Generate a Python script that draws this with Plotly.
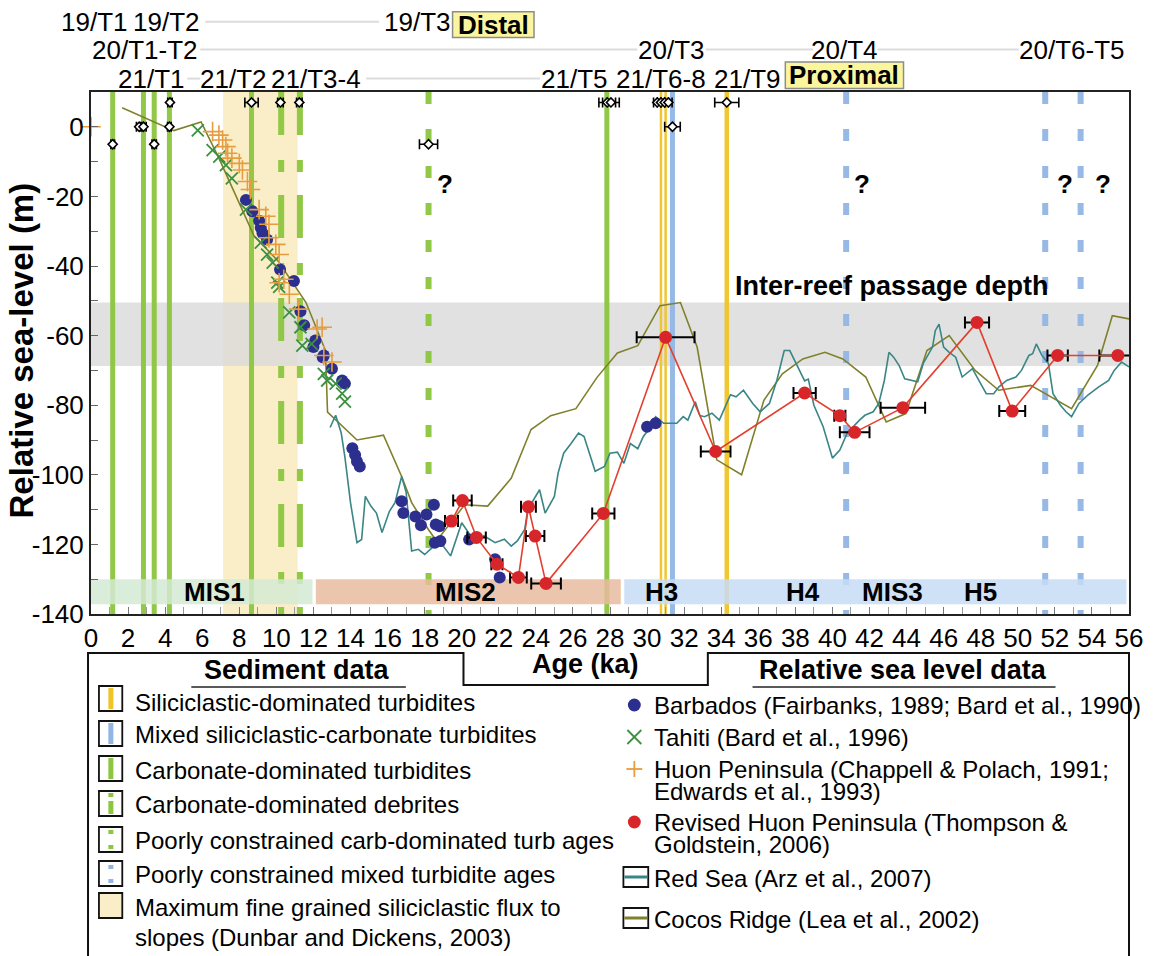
import plotly.graph_objects as go

# ---------------------------------------------------------------- data
# Cocos Ridge sea-level curve (age ka, relative sea level m)
cocos_age = [1.68, 4.47, 5.94, 6.9, 8.8, 10.1, 11.6, 12.65, 12.76, 14.35, 15.78, 16.76, 17.3,
             18.2, 18.64, 20.16, 21.4, 22.67, 23.74, 24.8, 26.16, 27.3, 28.4, 29.5, 30.7, 31.8,
             32.7, 33.76, 35.1, 36.3, 37.3, 38.4, 39.6, 40.56, 41.8, 42.9, 43.96, 45.1, 46.3,
             47.7, 48.97, 50.7, 52.9, 54.3, 55.1, 56.0]
cocos_rsl = [5.5, -1.1, 1.4, -9, -31.4, -38.6, -50.5, -64.3, -82, -90, -88.6, -100.5, -108,
             -115.7, -119, -108.6, -109, -101, -87, -83, -81, -72, -65, -62.9, -51.4, -50.5,
             -63.3, -95.7, -100, -78.6, -71, -66.7, -64.8, -66.7, -71.9, -84.8, -82.4, -64.3, -60,
             -70, -75.7, -74.3, -81, -68.6, -54.3, -55.2]

# Red Sea sea-level curve
redsea_age = [12.9, 13.2, 13.5, 13.7, 14.0, 14.35, 14.6, 14.8, 15.1, 15.4, 15.7, 16.1, 16.4,
              16.76, 17.0, 17.3, 17.66, 18.0, 18.5, 19.0, 19.4, 20.0, 20.35, 20.7, 21.2, 21.8,
              22.3, 22.67, 23.0, 23.4, 23.56, 24.2, 24.5, 25.0, 25.2, 25.5, 25.9, 26.3, 26.6,
              26.9, 27.2, 27.7, 28.0, 28.4, 28.75, 29.1, 29.5, 29.8, 30.2, 30.46, 30.9, 31.6,
              31.95, 32.2, 32.6, 32.85, 33.1, 33.5, 33.9, 34.5, 34.8, 35.2, 35.7, 36.1, 36.6,
              37.0, 37.4, 37.7, 38.2, 38.5, 38.7, 39.0, 39.5, 40.0, 40.4, 40.8, 41.46, 41.75,
              42.2, 42.5, 42.8, 43.05, 43.3, 43.6, 43.9, 44.3, 44.6, 44.9, 45.4, 45.55, 45.75,
              46.0, 46.3, 46.65, 47.0, 47.55, 47.9, 48.3, 48.7, 48.97, 49.4, 49.9, 50.2, 50.6,
              50.8, 51.0, 51.3, 51.65, 51.9, 52.3, 52.6, 52.9, 53.3, 53.8, 54.35, 54.9, 55.2,
              55.6, 56.0]
redsea_rsl = [-86.4, -82.9, -88, -95, -108, -119.5, -118.6, -106.2, -109, -111, -116.6, -110.5,
              -108, -100.5, -105, -121.9, -121.4, -122.9, -120.5, -120.5, -123.3, -113.8, -116.5,
              -119.5, -117.5, -119.5, -118.5, -120.5, -119, -115.7, -110, -104.3, -111, -106.2,
              -99.5, -93.8, -91, -88, -89, -93.8, -99, -97.6, -93.8, -93.5, -96.7, -91, -92.5,
              -89, -86.2, -83.3, -85.2, -85.2, -83.3, -84.3, -79, -83, -83.3, -82.3, -84.3, -77,
              -77.6, -75.7, -79.5, -81.9, -79.5, -72.9, -64.3, -64.3, -70, -73, -72.5, -80,
              -86.2, -95.2, -92.9, -88, -84.3, -82.9, -81.9, -79.5, -72.9, -64.8, -66.2, -68.6,
              -72.4, -72.9, -73.3, -68, -63.3, -58.6, -56.7, -63.3, -64.8, -66.2, -71.9, -69.5,
              -72.9, -76.7, -76.7, -74.8, -72.9, -71.9, -70, -65.7, -65.2, -62.4, -65.7, -68,
              -76.7, -80, -81.9, -83.3, -79.5, -77, -74.8, -72.9, -70, -67.6, -69]

# Barbados corals
barbados_age = [8.36, 8.7, 9.07, 9.16, 9.25, 9.5, 10.2, 10.95, 11.3, 11.5, 12.0, 12.1, 12.5,
                12.56, 13.0, 13.55, 13.7, 14.1, 14.25, 14.35, 14.5, 16.76, 16.85, 17.5, 17.8,
                18.1, 18.5, 18.6, 18.55, 18.85, 18.8, 20.4, 21.8, 22.05, 30.0, 30.46]
barbados_rsl = [-21, -24.3, -27, -29, -30.5, -32.4, -41, -44.3, -53, -57, -63.3, -61.4, -66.2,
                -65.7, -69.5, -72.9, -73.8, -92.4, -94.3, -96.2, -97.6, -107.6, -111, -112,
                -114.5, -111.4, -108.6, -114.3, -119.5, -119, -114.8, -118.6, -124.3, -129.5,
                -86.2, -85.2]

# Tahiti corals
tahiti_age = [5.76, 6.56, 6.92, 7.28, 7.6, 8.36, 9.16, 9.5, 9.8, 10.05, 10.15, 10.7, 11.3,
              11.4, 11.9, 12.56, 12.74, 13.2, 13.55, 13.7]
tahiti_rsl = [-1, -6.7, -8.6, -11, -14.8, -23.8, -33.3, -36.7, -39, -44.8, -46, -53.3, -57.6,
              -62.9, -62.4, -71, -72.9, -73.8, -76.7, -79]

# Huon Peninsula terraces
huon_age = [0, 6.56, 6.9, 7.1, 7.28, 7.37, 7.6, 8.0, 8.17, 8.44, 8.6, 9.07, 9.43, 9.6, 9.6,
            9.97, 10.15, 10.15, 10.4, 10.7, 11.2, 12.2, 12.47, 12.56, 13.0]
huon_rsl = [0, -1.4, -2.4, -3.8, -5.7, -7.6, -9, -10.5, -12.4, -15.7, -18, -23.8, -25.7, -28,
            -31.9, -33.8, -36.7, -44.8, -43.8, -48.1, -52.4, -58.1, -57.6, -65.7, -67.6]

# Revised Huon Peninsula (age, level, age uncertainty)
revised_age = [19.45, 20.04, 20.8, 21.9, 23.06, 23.6, 23.96, 24.55, 27.64, 31.0, 33.7, 38.5,
               40.4, 41.2, 43.8, 47.8, 49.7, 52.15, 55.4]
revised_rsl = [-113.3, -107.4, -118, -125.7, -129.5, -109.2, -117.6, -131.2, -111.1, -60.5,
               -93.3, -76.5, -83, -87.8, -80.7, -56.2, -81.7, -65.7, -65.7]
revised_err = [0.35, 0.5, 0.5, 0.3, 0.45, 0.4, 0.5, 0.8, 0.6, 1.56, 0.8, 0.6, 0.3, 0.8, 1.2,
               0.65, 0.7, 0.55, 1.0]

# Dated core samples (age ka, row level m, age uncertainty)
sample_age = [1.17, 2.6, 2.83, 3.41, 4.23, 4.26, 8.66, 10.22, 11.24, 18.21, 27.85, 28.05,
              30.55, 30.75, 30.95, 31.15, 31.37, 34.3]
sample_rsl = [-5, 0, 0, -5, 0, 7, 7, 7, 7, -5, 7, 7, 7, 7, 7, 7, 0, 7]
sample_err = [0.1, 0.15, 0.15, 0.12, 0.1, 0.12, 0.36, 0.15, 0.15, 0.49, 0.45, 0.45, 0.2, 0.2,
              0.2, 0.2, 0.42, 0.65]

# Turbidite / debrite event ages (ka)
carb_turb = [1.17, 2.83, 3.41, 4.23, 8.66, 27.83]
carb_debrite = [10.26, 11.27]
carb_poor = [18.21]
sili_turb = [30.75, 31.0, 34.3]
mixed_turb = [31.37]
mixed_poor = [40.74, 51.48, 53.39]

# Intervals
flux_start, flux_end = 7.13, 11.15
passage_top, passage_bottom = -50.5, -68.7
mis_start = [0, 12.13, 28.77]
mis_end = [11.95, 28.58, 55.86]
stage_text = ["MIS1", "MIS2", "H3", "H4", "MIS3", "H5"]
stage_age = [6.68, 20.2, 30.8, 38.4, 43.25, 48.0]
query_age = [19.1, 41.6, 52.55, 54.6]

# Axis ticks
x_ticks = list(range(0, 57, 2))
y_ticks = [0, -20, -40, -60, -80, -100, -120, -140]
y_tick_text = ["0", "-20", "-40", "-60", "-80", "-100", "-120", "-140"]

# ---------------------------------------------------------------- styling
FONT = "Liberation Sans, Arial, Helvetica, sans-serif"
W, H = 1155, 956
L, R, T, B = 91, 1136, 92, 614

GREEN = "#8cc63f"
YELLOW = "#f0c428"
BLUE = "#92b6e4"
C_BARB = "#2c2f8e"
C_TAHITI = "#3c9140"
C_HUON = "#e79c3e"
C_RED = "#d7262a"
C_REDLINE = "#e2402e"
C_REDSEA = "#3a8585"
C_COCOS = "#80802c"


def fx(px):
    return (px - L) / (R - L)


def fy(py):
    return (B - py) / (B - T)


shapes = []
annotations = []


def note(text, x, y, size, xref="paper", yref="paper", xanchor="center", angle=0):
    annotations.append(dict(x=x, y=y, xref=xref, yref=yref, text=text, showarrow=False,
                            xanchor=xanchor, yanchor="middle", align="left", textangle=angle,
                            font=dict(size=size, color="black", family=FONT)))


# background bands
shapes.append(dict(type="rect", xref="x", yref="paper", x0=flux_start, x1=flux_end, y0=0, y1=1,
                   fillcolor="#faeec8", line=dict(width=0), layer="below"))
shapes.append(dict(type="rect", xref="paper", yref="y", x0=0, x1=1, y0=passage_bottom,
                   y1=passage_top, fillcolor="#d9d9d9", opacity=0.8, line=dict(width=0),
                   layer="below"))
for s, e, c in zip(mis_start, mis_end, ["#d3ead4", "#e8bb9f", "#c6dcf4"]):
    shapes.append(dict(type="rect", xref="x", yref="y", x0=s, x1=e, y0=-137.2, y1=-130,
                       fillcolor=c, opacity=0.85, line=dict(width=0), layer="below"))


def vlines(ages, color, widths, dash="solid", opacity=0.95):
    if not isinstance(widths, list):
        widths = [widths] * len(ages)
    for a, w in zip(ages, widths):
        shapes.append(dict(type="line", xref="x", yref="paper", x0=a, x1=a, y0=1, y1=0,
                           line=dict(color=color, width=w, dash=dash), opacity=opacity,
                           layer="below"))


vlines(carb_turb, GREEN, 5)
vlines(carb_debrite, GREEN, 6, dash="43px,25px,12px,23px")
vlines(carb_poor, GREEN, 6, dash="12px,25px")
vlines(sili_turb, YELLOW, [2.5, 2.5, 4.5])
vlines(mixed_turb, BLUE, 5)
vlines(mixed_poor, BLUE, 6, dash="12px,25px")

fig = go.Figure()

fig.add_trace(go.Scatter(x=cocos_age, y=cocos_rsl, mode="lines",
                         line=dict(color=C_COCOS, width=1.6), showlegend=False))
fig.add_trace(go.Scatter(x=redsea_age, y=redsea_rsl, mode="lines",
                         line=dict(color=C_REDSEA, width=1.6), showlegend=False))
fig.add_trace(go.Scatter(x=barbados_age, y=barbados_rsl, mode="markers",
                         marker=dict(symbol="circle", size=12, color=C_BARB), showlegend=False))
fig.add_trace(go.Scatter(x=tahiti_age, y=tahiti_rsl, mode="markers",
                         marker=dict(symbol="x-thin", size=12, color=C_TAHITI,
                                     line=dict(color=C_TAHITI, width=1.8)), showlegend=False))
fig.add_trace(go.Scatter(x=huon_age, y=huon_rsl, mode="markers", cliponaxis=False,
                         marker=dict(symbol="cross-thin", size=14, color=C_HUON,
                                     line=dict(color=C_HUON, width=1.6)), showlegend=False))
fig.add_trace(go.Scatter(x=revised_age, y=revised_rsl, mode="lines+markers",
                         line=dict(color=C_REDLINE, width=1.6),
                         marker=dict(symbol="circle", size=13, color=C_RED),
                         error_x=dict(type="data", array=revised_err, color="black",
                                      thickness=2, width=6),
                         showlegend=False))
fig.add_trace(go.Scatter(x=sample_age, y=sample_rsl, mode="markers",
                         marker=dict(symbol="diamond", size=7, color="white",
                                     line=dict(color="black", width=1.6)),
                         error_x=dict(type="data", array=sample_err, color="black",
                                      thickness=1.6, width=5),
                         showlegend=False))

# labels inside the plot
note("<b>Inter-reef passage depth</b>", 43.2, -45.7, 27, xref="x", yref="y")
for a in query_age:
    note("<b>?</b>", a, -16.4, 26, xref="x", yref="y")
for t, a in zip(stage_text, stage_age):
    note("<b>%s</b>" % t, a, -133.6, 26, xref="x", yref="y")

# core labels above the frame with their leader lines
for x0, x1, yy in [(206, 381, 21.7), (201, 641, 49.5), (710, 818, 49.5), (883, 1025, 49.5),
                   (188, 201, 78.6), (368, 543, 78.6)]:
    shapes.append(dict(type="line", xref="paper", yref="paper", x0=fx(x0), x1=fx(x1),
                       y0=fy(yy), y1=fy(yy), line=dict(color="#dcdcdc", width=2)))
core_labels = [("19/T1", 94.5, 21.7), ("19/T2", 167, 21.7), ("19/T3", 420, 21.7),
               ("20/T1-T2", 145, 49.5), ("20/T3", 675, 49.5), ("20/T4", 850, 49.5),
               ("20/T6-T5", 1079, 49.5),
               ("21/T1", 151.5, 78.6), ("21/T2", 234, 78.6), ("21/T3-4", 318, 78.6),
               ("21/T5", 578, 78.6), ("21/T6-8", 665, 78.6), ("21/T9", 751.5, 78.6)]
for t, xx, yy in core_labels:
    note(t, fx(xx), fy(yy), 26)
for t, x0, x1, y0, y1 in [("Distal", 455, 537, 11.7, 37.5), ("Proximal", 790, 909, 62, 88.6)]:
    shapes.append(dict(type="rect", xref="paper", yref="paper", x0=fx(x0), x1=fx(x1),
                       y0=fy(y1), y1=fy(y0), fillcolor="#fbf59e",
                       line=dict(color="#8c8c8c", width=1.5)))
    note("<b>%s</b>" % t, fx((x0 + x1) / 2), fy((y0 + y1) / 2), 26)

# axis titles
note("<b>Relative sea-level (m)</b>", fx(21), fy(350), 33, angle=-90)
note("<b>Age (ka)</b>", fx(589), fy(664), 27)

# ---------------------------------------------------------------- key box
box = [(88, 962), (88, 653), (466, 653), (466, 685), (712, 685), (712, 653), (1136, 653),
       (1136, 962)]
path = "M " + " L ".join("%.5f,%.5f" % (fx(a), fy(b)) for a, b in box)
shapes.append(dict(type="path", xref="paper", yref="paper", path=path,
                   line=dict(color="#111111", width=2)))
note("<b>Sediment data</b>", fx(298), fy(670), 27)
note("<b>Relative sea level data</b>", fx(908), fy(670), 27)
for x0, x1 in [(192, 408), (757, 1062)]:
    shapes.append(dict(type="line", xref="paper", yref="paper", x0=fx(x0), x1=fx(x1),
                       y0=fy(687), y1=fy(687), line=dict(color="#222222", width=1.5)))

sed_items = ["Siliciclastic-dominated turbidites",
             "Mixed siliciclastic-carbonate turbidites",
             "Carbonate-dominated turbidites",
             "Carbonate-dominated debrites",
             "Poorly constrained carb-dominated turb ages",
             "Poorly constrained mixed turbidite ages",
             "Maximum fine grained siliciclastic flux to",
             "slopes (Dunbar and Dickens, 2003)"]
sed_text_y = [703, 734, 770, 804, 840, 874, 908, 937]
for txt, ty in zip(sed_items, sed_text_y):
    note(txt, fx(133), fy(ty), 24, xanchor="left")

sed_icon_top = [686, 721, 756, 791, 827, 861, 893]
for i, top in enumerate(sed_icon_top):
    bot = top + 25
    fill = "#faeec8" if i == 6 else "white"
    shapes.append(dict(type="rect", xref="paper", yref="paper", x0=fx(99), x1=fx(122.5),
                       y0=fy(bot), y1=fy(top), fillcolor=fill,
                       line=dict(color="#111111", width=1.8)))
    cx = fx(111)
    segs = []
    if i == 0:
        segs = [(YELLOW, top + 2, bot - 2)]
    elif i == 1:
        segs = [(BLUE, top + 2, bot - 2)]
    elif i == 2:
        segs = [(GREEN, top + 2, bot - 2)]
    elif i == 3:
        segs = [(GREEN, top + 2, top + 6), (GREEN, top + 10, bot - 2)]
    elif i == 4:
        segs = [(GREEN, top + 3, top + 7), (GREEN, top + 18, top + 22)]
    elif i == 5:
        segs = [(BLUE, top + 4, top + 8), (BLUE, top + 18, top + 22)]
    for c, a, b in segs:
        shapes.append(dict(type="line", xref="paper", yref="paper", x0=cx, x1=cx,
                           y0=fy(a), y1=fy(b), line=dict(color=c, width=5)))

rsl_items = ["Barbados (Fairbanks, 1989; Bard et al., 1990)",
             "Tahiti (Bard et al., 1996)",
             "Huon Peninsula (Chappell &amp; Polach, 1991;",
             "Edwards et al., 1993)",
             "Revised Huon Peninsula (Thompson &amp;",
             "Goldstein, 2006)",
             "Red Sea (Arz et al., 2007)",
             "Cocos Ridge (Lea et al., 2002)"]
rsl_text_y = [705, 737, 769, 791, 822, 844, 878, 919]
for txt, ty in zip(rsl_items, rsl_text_y):
    note(txt, fx(656), fy(ty), 24, xanchor="left")

mx = 638
for cy, col in [(705, C_BARB), (822, C_RED)]:
    shapes.append(dict(type="circle", xref="paper", yref="paper", x0=fx(mx - 6.5),
                       x1=fx(mx + 6.5), y0=fy(cy + 6.5), y1=fy(cy - 6.5), fillcolor=col,
                       line=dict(width=0)))
for dx, dy in [(-7, -7), (-7, 7)]:
    shapes.append(dict(type="line", xref="paper", yref="paper", x0=fx(mx + dx), x1=fx(mx - dx),
                       y0=fy(737 + dy), y1=fy(737 - dy), line=dict(color=C_TAHITI, width=1.8)))
shapes.append(dict(type="line", xref="paper", yref="paper", x0=fx(mx - 8), x1=fx(mx + 8),
                   y0=fy(769), y1=fy(769), line=dict(color=C_HUON, width=1.8)))
shapes.append(dict(type="line", xref="paper", yref="paper", x0=fx(mx), x1=fx(mx),
                   y0=fy(761), y1=fy(777), line=dict(color=C_HUON, width=1.8)))
for top, col in [(867, C_REDSEA), (908, C_COCOS)]:
    shapes.append(dict(type="rect", xref="paper", yref="paper", x0=fx(627), x1=fx(652),
                       y0=fy(top + 20), y1=fy(top), fillcolor="white",
                       line=dict(color="#111111", width=1.8)))
    shapes.append(dict(type="line", xref="paper", yref="paper", x0=fx(628), x1=fx(651),
                       y0=fy(top + 10), y1=fy(top + 10), line=dict(color=col, width=3)))

# ---------------------------------------------------------------- layout
fig.update_layout(
    width=W, height=H, autosize=False,
    margin=dict(l=L, r=W - R, t=T, b=H - B, pad=0),
    paper_bgcolor="white", plot_bgcolor="white",
    font=dict(family=FONT, size=26, color="black"),
    showlegend=False,
    shapes=shapes, annotations=annotations,
    xaxis=dict(range=[0, 56], tickvals=x_ticks, ticktext=[str(v) for v in x_ticks],
               ticks="inside", ticklen=7, tickcolor="#777777", tickwidth=1,
               minor=dict(dtick=1, ticks="inside", ticklen=7, tickcolor="#999999"),
               showline=True, linecolor="#222222", linewidth=2, mirror=True,
               showgrid=False, zeroline=False, tickfont=dict(size=26, family=FONT)),
    yaxis=dict(range=[-140, 10], tickvals=y_ticks, ticktext=y_tick_text,
               ticks="inside", ticklen=7, tickcolor="#666666", tickwidth=1,
               minor=dict(dtick=10, ticks="inside", ticklen=7, tickcolor="#666666"),
               showline=True, linecolor="#222222", linewidth=2, mirror=True,
               showgrid=False, zeroline=False, tickfont=dict(size=26, family=FONT)),
)

fig.write_html("out.html")
